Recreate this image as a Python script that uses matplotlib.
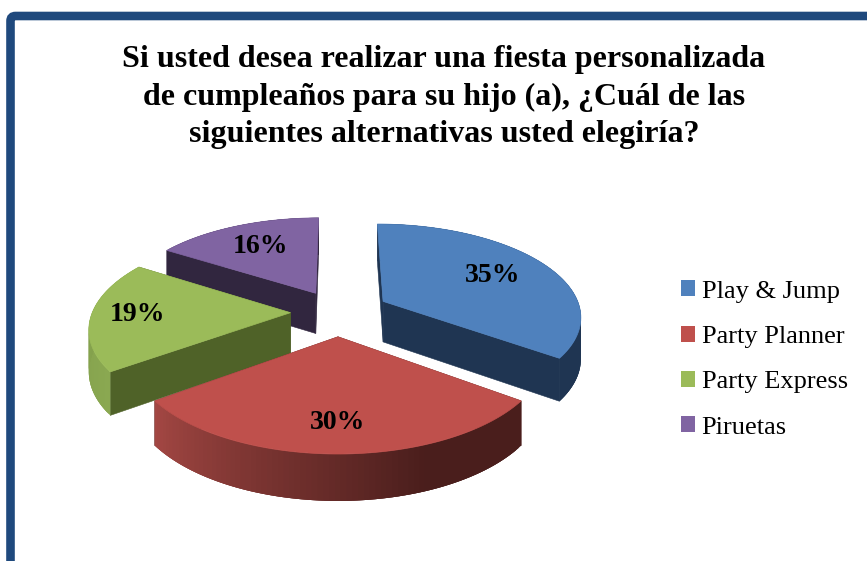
import numpy as np
import matplotlib
matplotlib.use('Agg')
import matplotlib.pyplot as plt
from matplotlib.patches import FancyBboxPatch, Patch
from matplotlib.colors import to_rgb

plt.rcParams['font.family'] = ['Liberation Serif', 'DejaVu Serif']

titulo = 'Si usted desea realizar una fiesta personalizada\nde cumpleaños para su hijo (a), ¿Cuál de las\nsiguientes alternativas usted elegiría?'
categorias = ['Play & Jump', 'Party Planner', 'Party Express', 'Piruetas']
valores = [35, 30, 19, 16]

# colores: cara superior, caras radiales, borde exterior (inicio, fin)
c_top = ['#4F81BD', '#BF504C', '#9BBB59', '#8064A2']
c_cara = ['#1F3552', '#4A1E1C', '#4F6228', '#31263F']
c_rim_ini = ['#1F3552', '#4A1E1C', '#8AA851', '#31263F']
c_rim_fin = ['#1F3552', '#A34743', '#7F9B49', '#31263F']
rim_plano = [0, 0.3, 0, 0]  # parte del borde sin degradado
r_label = [0.67, 0.76, 0.77, 0.67]
expl = [0.26, 0.26, 0.24, 0.24]
orden = [3, 2, 0, 1]

# proyeccion del disco (perspectiva simple), en pixeles de la figura
CX, CY = 338, 312
RX, RY = 198, 91.7
P = 0.148
PROF = 41


def proy(x, y):
    s = 1 / (1 - P * y)
    return CX + RX * x * s, CY + RY * y * s


def prof(x, y):
    s = 1 / (1 - P * y)
    return PROF * s ** 0.65


def mezcla(a, b, t):
    a, b = np.array(to_rgb(a)), np.array(to_rgb(b))
    return tuple(a + (b - a) * t)


fig = plt.figure(figsize=(8.67, 5.61), dpi=100)
ax = fig.add_axes([0, 0, 1, 1])
ax.set_xlim(0, 867)
ax.set_ylim(561, 0)
ax.axis('off')

# marco azul que sigue fuera de la imagen
ax.add_patch(FancyBboxPatch((10.5, 16), 900, 600, boxstyle='round,pad=0,rounding_size=5',
                            fc='white', ec='#1F497D', lw=6.2))

total = sum(valores)
limites = np.concatenate([[0], np.cumsum(valores)]) / total * 2 * np.pi

for i in orden:
    t0, t1 = limites[i], limites[i + 1]
    tm = (t0 + t1) / 2
    ox, oy = expl[i] * np.sin(tm), -expl[i] * np.cos(tm)
    t = np.linspace(t0, t1, 80)
    wx = ox + np.sin(t)
    wy = oy - np.cos(t)
    ax0, ay0 = proy(ox, oy)
    px, py = proy(wx, wy)
    d = prof(wx, wy)
    d0 = prof(ox, oy)

    # caras radiales
    for j in (0, -1):
        ax.fill([ax0, px[j], px[j], ax0], [ay0, py[j], py[j] + d[j], ay0 + d0],
                color=c_cara[i], lw=0.4, zorder=2)
    # borde exterior con degradado, cada tramo tapa parte del anterior para evitar rayas
    n = len(t)
    for j in range(n - 1):
        k = min(j + 3, n - 1)
        f = max(0, (j / (n - 2) - rim_plano[i]) / (1 - rim_plano[i]))
        col = mezcla(c_rim_ini[i], c_rim_fin[i], f)
        ax.fill(np.r_[px[j:k + 1], px[j:k + 1][::-1]],
                np.r_[py[j:k + 1], (py + d)[j:k + 1][::-1]],
                color=col, lw=0, zorder=2)
    # cara superior
    ax.fill(np.r_[ax0, px], np.r_[ay0, py], color=c_top[i], lw=0.5, zorder=2)

# etiquetas al final para que queden encima
for i in range(len(valores)):
    tm = (limites[i] + limites[i + 1]) / 2
    lx = (expl[i] + r_label[i]) * np.sin(tm)
    ly = -(expl[i] + r_label[i]) * np.cos(tm)
    sx, sy = proy(lx, ly)
    ax.text(sx, sy, f'{valores[i]}%', ha='center', va='center', fontsize=20,
            fontweight='bold', color='black', zorder=5)

ax.text(444, 97, titulo, ha='center', va='center', fontsize=23, fontweight='bold',
        linespacing=1.39, color='black')

handles = [Patch(fc=c, ec='none') for c in c_top]
ax.legend(handles, categorias, loc='center left', bbox_to_anchor=(670 / 867, 1 - 359.5 / 561),
          frameon=False, fontsize=19, handlelength=0.55, handleheight=0.55,
          handletextpad=0.25, labelspacing=0.87, borderpad=0, borderaxespad=0.4)

plt.savefig('out.png', dpi=100)
